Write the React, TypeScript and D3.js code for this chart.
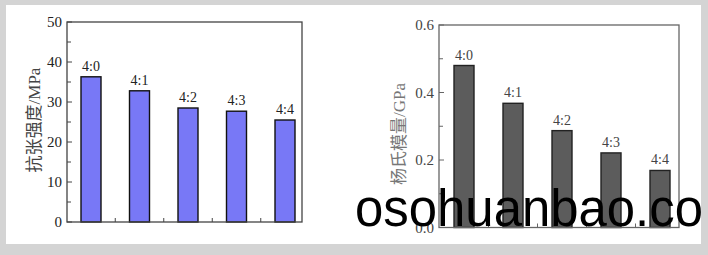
import React from "react";
import * as d3 from "d3";

const categories = ["4:0", "4:1", "4:2", "4:3", "4:4"];
const tensile = [36.3, 32.8, 28.5, 27.7, 25.5];
const modulus = [0.48, 0.368, 0.287, 0.221, 0.169];
const leftTicks = [0, 10, 20, 30, 40, 50];
const leftMinor = [5, 15, 25, 35, 45];
const rightTicks = [0.0, 0.2, 0.4, 0.6];
const rightMinor = [0.1, 0.3, 0.5];

const W = 708;
const H = 255;

type PanelProps = {
  x0: number; x1: number; y0: number; y1: number;
  domainMax: number; values: number[]; ticks: number[]; minor: number[];
  fmt: (v: number) => string; c0: number; c1: number;
  fill: string; barStroke: string; axisColor: string; textColor: string;
  label: string; labelX: number; labelY: number; labelColor: string;
};

function Panel(p: PanelProps) {
  const y = d3.scaleLinear().domain([0, p.domainMax]).range([p.y1, p.y0]);
  const x = d3.scalePoint<string>().domain(categories).range([p.c0, p.c1]);
  const bw = 20;
  const step = x.step();
  const font = "'Liberation Serif', 'Times New Roman', serif";
  return (
    <g>
      {p.values.map((v, i) => {
        const cx = x(categories[i])!;
        return (
          <g key={i}>
            <rect x={cx - bw / 2} y={y(v)} width={bw} height={p.y1 - y(v)}
              fill={p.fill} stroke={p.barStroke} strokeWidth={1.4} />
            <text x={cx} y={y(v) - 6} textAnchor="middle" fontSize={14}
              fontFamily={font} fill={p.textColor}>{categories[i]}</text>
          </g>
        );
      })}
      {categories.slice(0, -1).map((c, i) => {
        const mx = x(c)! + step / 2;
        return <line key={"bt" + i} x1={mx} x2={mx} y1={p.y1} y2={p.y1 - 4}
          stroke={p.axisColor} strokeWidth={1} />;
      })}
      {p.ticks.map((t) => (
        <g key={"t" + t}>
          <line x1={p.x0} x2={p.x0 + 5} y1={y(t)} y2={y(t)} stroke={p.axisColor} strokeWidth={1} />
          <text x={p.x0 - 5} y={y(t)} dy="0.35em" textAnchor="end" fontSize={15}
            fontFamily={font} fill={p.textColor}>{p.fmt(t)}</text>
        </g>
      ))}
      {p.minor.map((t) => (
        <line key={"m" + t} x1={p.x0} x2={p.x0 + 4} y1={y(t)} y2={y(t)} stroke={p.axisColor} strokeWidth={1} />
      ))}
      <rect x={p.x0} y={p.y0} width={p.x1 - p.x0} height={p.y1 - p.y0}
        fill="none" stroke={p.axisColor} strokeWidth={1.3} />
      <text transform={`translate(${p.labelX},${p.labelY}) rotate(-90)`}
        textAnchor="middle" dy="0.35em" fontSize={17}
        fontFamily="'Liberation Serif', 'Noto Sans CJK SC', serif" fill={p.labelColor}>
        {p.label}
      </text>
    </g>
  );
}

export default function App() {
  return (
    <svg width={W} height={H} style={{ position: "absolute", left: 0, top: 0 }}>
      <rect x={0} y={0} width={W} height={H} fill="#d4d4d4" />
      <rect x={6} y={5} width={695} height={239} fill="#ffffff" />
      <Panel x0={67} x1={302} y0={22} y1={222} domainMax={50}
        values={tensile} ticks={leftTicks} minor={leftMinor} fmt={(v) => String(v)}
        c0={91} c1={285} fill="#7878f6" barStroke="#111" axisColor="#444"
        textColor="#222" label="抗张强度/MPa" labelX={34} labelY={120} labelColor="#444" />
      <Panel x0={439} x1={679} y0={25} y1={227.5} domainMax={0.6}
        values={modulus} ticks={rightTicks} minor={rightMinor} fmt={(v) => v.toFixed(1)}
        c0={464} c1={660} fill="#5c5c5c" barStroke="#222" axisColor="#666"
        textColor="#444" label="杨氏模量/GPa" labelX={399} labelY={134} labelColor="#777" />
      <text x={355} y={226} fontSize={51} textLength={348} lengthAdjust="spacingAndGlyphs"
        fontFamily="'Liberation Sans', Arial, sans-serif" fill="#000">osohuanbao.co</text>
    </svg>
  );
}
